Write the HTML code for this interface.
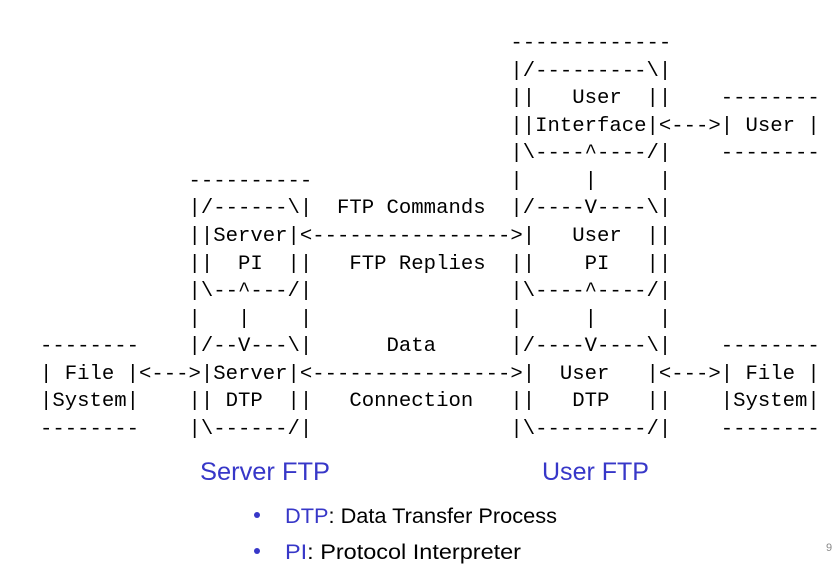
<!DOCTYPE html>
<html><head><meta charset="utf-8"><style>
html,body{margin:0;padding:0;background:#fff;width:838px;height:567px;overflow:hidden;position:relative}
pre{position:absolute;left:40px;top:30px;margin:0;font-family:"Liberation Mono",monospace;font-size:20.63px;line-height:27.57px;color:#000}
svg{position:absolute;left:0;top:0}
</style></head><body>
<pre>                                      -------------
                                      |/---------\|
                                      ||   User  ||    --------
                                      ||Interface|&lt;---&gt;| User |
                                      |\----^----/|    --------
            ----------                |     |     |
            |/------\|  FTP Commands  |/----V----\|
            ||Server|&lt;----------------&gt;|   User  ||
            ||  PI  ||   FTP Replies  ||    PI   ||
            |\--^---/|                |\----^----/|
            |   |    |                |     |     |
--------    |/--V---\|      Data      |/----V----\|    --------
| File |&lt;---&gt;|Server|&lt;----------------&gt;|  User   |&lt;---&gt;| File |
|System|    || DTP  ||   Connection   ||   DTP   ||    |System|
--------    |\------/|                |\---------/|    --------</pre>
<svg width="838" height="567" font-family="Liberation Sans, sans-serif">
<text x="200" y="480" font-size="25" fill="#3737c8" textLength="130" lengthAdjust="spacingAndGlyphs">Server FTP</text>
<text x="542" y="480" font-size="25" fill="#3737c8" textLength="107" lengthAdjust="spacingAndGlyphs">User FTP</text>
<circle cx="257" cy="515" r="3" fill="#3737c8"/>
<circle cx="257" cy="551" r="3" fill="#3737c8"/>
<text x="285" y="523" font-size="21" textLength="272" lengthAdjust="spacingAndGlyphs"><tspan fill="#3737c8">DTP</tspan><tspan fill="#000">: Data Transfer Process</tspan></text>
<text x="285" y="559" font-size="21" textLength="236" lengthAdjust="spacingAndGlyphs"><tspan fill="#3737c8">PI</tspan><tspan fill="#000">: Protocol Interpreter</tspan></text>
<text x="826" y="551" font-size="11" fill="#888">9</text>
</svg>
</body></html>
